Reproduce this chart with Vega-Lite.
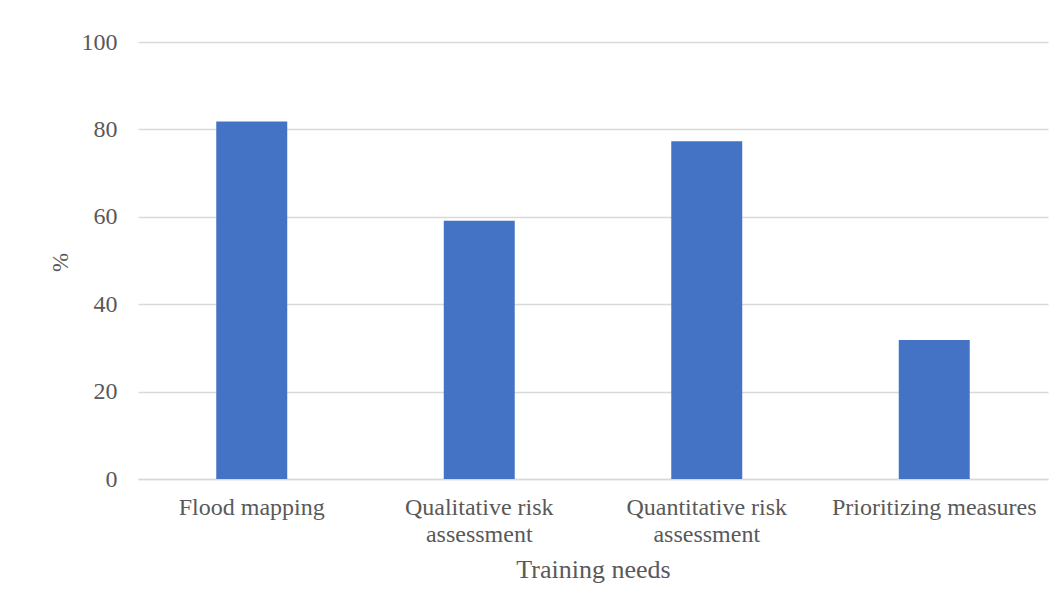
{
  "$schema": "https://vega.github.io/schema/vega-lite/v6.json",
  "autosize": {"type": "none"},
  "padding": {"left": 138, "top": 42, "right": 16, "bottom": 130},
  "width": 910,
  "height": 437,
  "background": "white",
  "config": {
    "font": "Liberation Serif",
    "view": {"stroke": null},
    "axis": {"labelFont": "Liberation Serif", "titleFont": "Liberation Serif", "labelColor": "#595959", "titleColor": "#595959", "titleFontWeight": "normal"}
  },
  "data": {"values": [
    {"need": "Flood mapping", "pct": 81.8},
    {"need": "Qualitative risk assessment", "pct": 59.1},
    {"need": "Quantitative risk assessment", "pct": 77.3},
    {"need": "Prioritizing measures", "pct": 31.8}
  ]},
  "mark": {"type": "bar", "color": "#4472C4"},
  "encoding": {
    "x": {
      "field": "need", "type": "nominal", "sort": null,
      "scale": {"paddingInner": 0.688, "paddingOuter": 0.344},
      "axis": {
        "title": "Training needs", "titleFontSize": 26, "titlePadding": 10,
        "labelAngle": 0, "labelFontSize": 24, "labelLineHeight": 27, "labelPadding": 16, "labelLimit": 0,
        "labelExpr": "indexof(datum.label, ' assessment') > 0 ? [slice(datum.label, 0, indexof(datum.label, ' assessment')), 'assessment'] : datum.label",
        "domain": true, "domainColor": "#d9d9d9", "domainWidth": 1.5, "ticks": false, "grid": false
      }
    },
    "y": {
      "field": "pct", "type": "quantitative",
      "scale": {"domain": [0, 100]},
      "axis": {
        "title": "%", "titleFontSize": 23, "titleAngle": -90, "titleX": -78, "titleY": 220, "titleAlign": "center", "titleBaseline": "middle",
        "values": [0, 20, 40, 60, 80, 100], "labelFontSize": 24, "labelPadding": 21,
        "domain": false, "ticks": false, "grid": true, "gridColor": "#d9d9d9", "gridWidth": 1.3
      }
    }
  }
}
